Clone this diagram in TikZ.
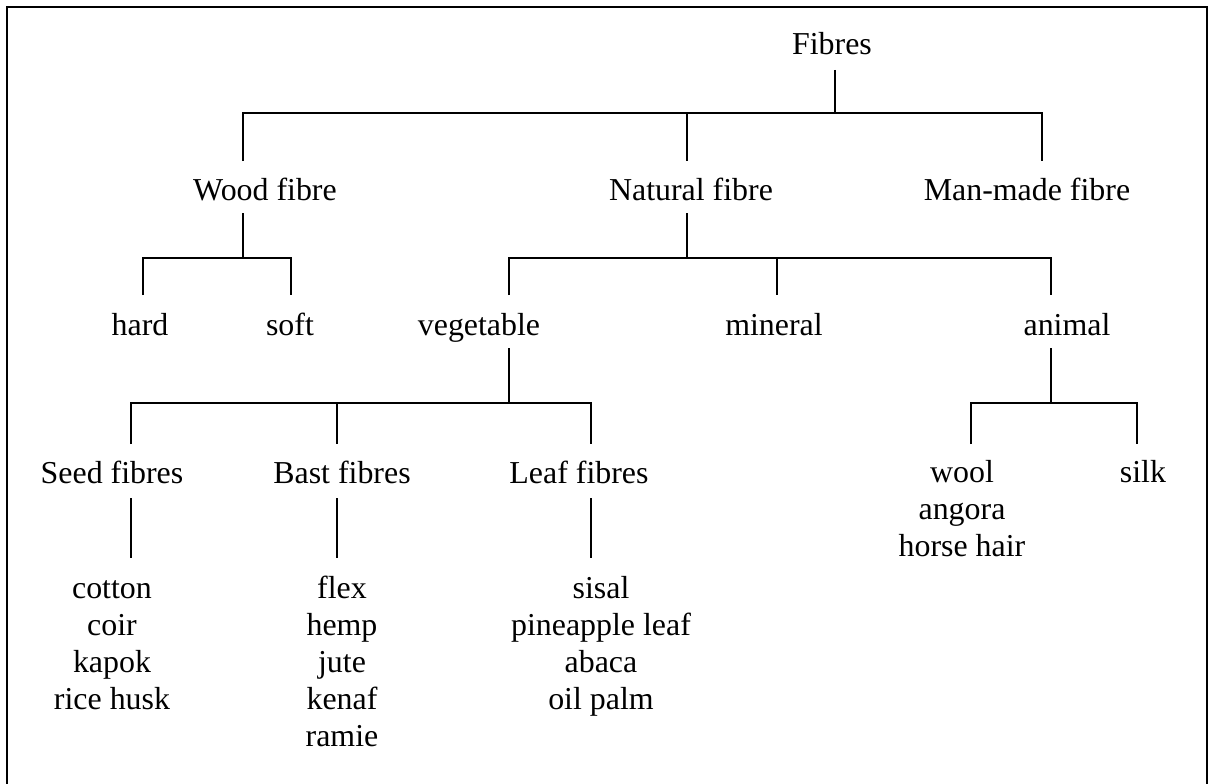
\documentclass[tikz,border=0pt]{standalone}
\usepackage{fontspec}
\setmainfont{Liberation Serif}
\newcommand\treefs{\fontsize{31.9}{37}\selectfont}
\begin{document}
\begin{tikzpicture}[x=1pt,y=-1pt,
  lbl/.style={anchor=base, inner sep=0pt, font=\treefs},
  conn/.style={line width=1.8pt},
  frameline/.style={line width=2pt}]
\useasboundingbox (0,0) rectangle (1210,784);
\draw[frameline] (7,790) coordinate (fbl) -- (7,6.7) coordinate (ftl) -- (1207,6.7) coordinate (ftr) -- (1207,790) coordinate (fbr);

% level 0
\node[lbl] (fibres) at (832,55) {Fibres};
% level 1
\node[lbl] (wood) at (265,200) {Wood fibre};
\node[lbl] (natural) at (691,200) {Natural fibre};
\node[lbl] (manmade) at (1027,200) {Man-made fibre};
% level 2
\node[lbl] (hard) at (140,335) {hard};
\node[lbl] (soft) at (290,335) {soft};
\node[lbl] (vegetable) at (479,335) {vegetable};
\node[lbl] (mineral) at (774,335) {mineral};
\node[lbl] (animal) at (1067,335) {animal};
% level 3
\node[lbl] (seed) at (112,483) {Seed fibres};
\node[lbl] (bast) at (342,483) {Bast fibres};
\node[lbl] (leaf) at (579,483) {Leaf fibres};
\node[lbl] (an1) at (962,482) {wool};
\node[lbl] (an2) at (962,519) {angora};
\node[lbl] (an3) at (962,556) {horse hair};
\node[lbl] (silk) at (1143,482) {silk};
% level 4 lists
\foreach \t [count=\i] in {cotton,coir,kapok,rice husk}
  \node[lbl] (sd\i) at (112,{598+37*(\i-1)}) {\t};
\foreach \t [count=\i] in {flex,hemp,jute,kenaf,ramie}
  \node[lbl] (bs\i) at (342,{598+37*(\i-1)}) {\t};
\foreach \t [count=\i] in {sisal,pineapple leaf,abaca,oil palm}
  \node[lbl] (lf\i) at (601,{598+37*(\i-1)}) {\t};

% connectors: Fibres
\draw[conn] (835,70) coordinate (fibS) -- (835,113) coordinate (fibJ);
\draw[conn] (243,161) coordinate (woodN) -- (243,113) -- (1042,113) -- (1042,161) coordinate (manN);
\draw[conn] (687,113) -- (687,161) coordinate (natN);
% Wood fibre
\draw[conn] (243,213) coordinate (woodS) -- (243,258) coordinate (woodJ);
\draw[conn] (143,295) coordinate (hardN) -- (143,258) -- (291,258) -- (291,295) coordinate (softN);
% Natural fibre
\draw[conn] (687,213) coordinate (natS) -- (687,258) coordinate (natJ);
\draw[conn] (509,295) coordinate (vegN) -- (509,258) -- (1051,258) -- (1051,295) coordinate (aniN);
\draw[conn] (777,258) -- (777,295) coordinate (minN);
% vegetable
\draw[conn] (509,348) coordinate (vegS) -- (509,403) coordinate (vegJ);
\draw[conn] (131,444) coordinate (seedN) -- (131,403) -- (591,403) -- (591,444) coordinate (leafN);
\draw[conn] (337,403) -- (337,444) coordinate (bastN);
% animal
\draw[conn] (1051,348) coordinate (aniS) -- (1051,403) coordinate (aniJ);
\draw[conn] (971,444) coordinate (woolN) -- (971,403) -- (1137,403) -- (1137,444) coordinate (silkN);
% lists
\draw[conn] (131,498) coordinate (seedS) -- (131,558) coordinate (sdN);
\draw[conn] (337,498) coordinate (bastS) -- (337,558) coordinate (bsN);
\draw[conn] (591,498) coordinate (leafS) -- (591,558) coordinate (lfN);
\end{tikzpicture}
\end{document}
